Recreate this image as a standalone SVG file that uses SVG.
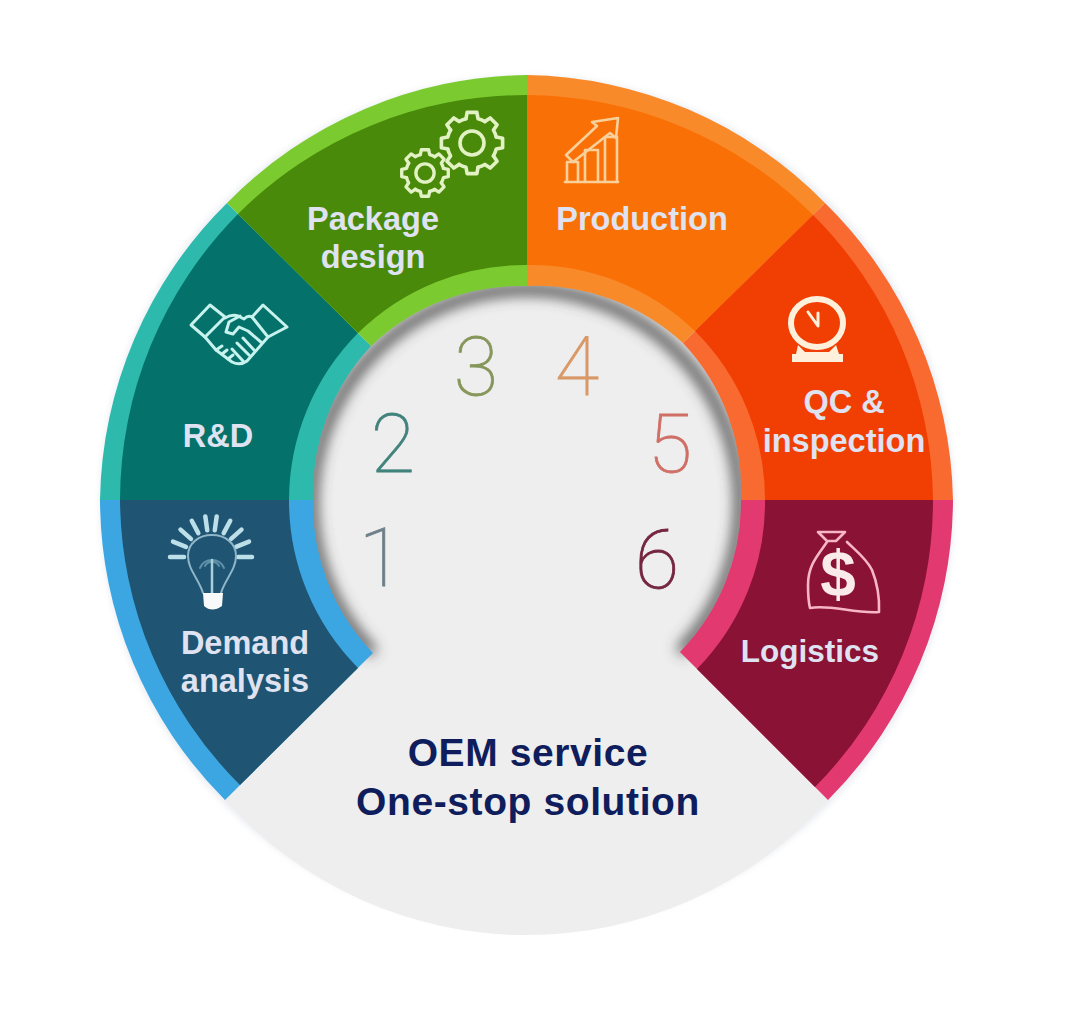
<svg xmlns="http://www.w3.org/2000/svg" xmlns:xlink="http://www.w3.org/1999/xlink" width="1065" height="1020" viewBox="0 0 1065 1020">
  <style>
    .label { font-family: "Liberation Sans", Arial, sans-serif; font-weight: 700; font-size: 32.5px; fill: #dfe2f0; text-anchor: middle; }
    .title { font-family: "Liberation Sans", Arial, sans-serif; font-weight: 700; font-size: 39px; letter-spacing: 0.6px; fill: #0f1d5c; text-anchor: middle; }
    .digit { font-family: "Roboto", "Liberation Sans", sans-serif; font-weight: 100; font-size: 81px; stroke-width: 0.8px; text-anchor: middle; }
    .icon { fill: none; stroke-linejoin: round; stroke-linecap: round; }
  </style>
  <defs>
    <filter id="soft" x="-10%" y="-10%" width="120%" height="120%"><feGaussianBlur stdDeviation="7"/></filter>
    <filter id="halo" x="-5%" y="-5%" width="110%" height="110%"><feGaussianBlur stdDeviation="3"/></filter>
    <clipPath id="well">
      <circle cx="527" cy="500" r="228"/>
      <path d="M373 653 L527 500 L680 652 L828 800 A404 404 0 0 1 225 800 Z"/>
    </clipPath>
    <path id="cog" d="M-6.05 -24.26 L-4.85 -30.62 L4.85 -30.62 L6.05 -24.26 A25 25 0 0 1 12.88 -21.43"/>
    <g id="cogwheel">
      <use xlink:href="#cog"/>
      <use xlink:href="#cog" transform="rotate(45)"/>
      <use xlink:href="#cog" transform="rotate(90)"/>
      <use xlink:href="#cog" transform="rotate(135)"/>
      <use xlink:href="#cog" transform="rotate(180)"/>
      <use xlink:href="#cog" transform="rotate(225)"/>
      <use xlink:href="#cog" transform="rotate(270)"/>
      <use xlink:href="#cog" transform="rotate(315)"/>
      <circle r="12"/>
    </g>
    <line id="ray" x1="0" y1="-27" x2="0" y2="-41"/>
  </defs>

  <!-- pale rim behind the wheel -->
  <circle cx="527" cy="503" r="427" fill="#cfd3e0" opacity="0.4" filter="url(#halo)"/>

  <!-- central well and lower wedge; the fill runs a little under the coloured bands -->
  <g id="hub">
    <circle cx="527" cy="500" r="228" fill="#eeeeee"/>
    <path d="M373 653 L527 500 L680 652 L828 800 A404 404 0 0 1 225 800 Z" fill="#eeeeee"/>
    <g clip-path="url(#well)">
      <path d="M373 653 A214 214 0 1 1 680 652" fill="none" stroke="#4c4c4c" stroke-width="11" filter="url(#soft)"/>
    </g>
    <text class="title" x="528" y="766">OEM service</text>
    <text class="title" x="528" y="815">One-stop solution</text>
  </g>

  <g id="step-1">
    <path fill="#3ba6e2" d="M225 800 A427 427 0 0 1 100 500 L313 500 A214 214 0 0 0 373 653 Z"/>
    <path fill="#1f5472" d="M240 785 A407 407 0 0 1 120 500 L289 500 A238 238 0 0 0 358 668 Z"/>
    <g class="icon" stroke="#bcdfe9" stroke-width="4.5" transform="translate(211 557)">
      <use xlink:href="#ray" transform="rotate(-90)"/>
      <use xlink:href="#ray" transform="rotate(-68)"/>
      <use xlink:href="#ray" transform="rotate(-48)"/>
      <use xlink:href="#ray" transform="rotate(-28)"/>
      <use xlink:href="#ray" transform="rotate(-8)"/>
      <use xlink:href="#ray" transform="rotate(8)"/>
      <use xlink:href="#ray" transform="rotate(28)"/>
      <use xlink:href="#ray" transform="rotate(48)"/>
      <use xlink:href="#ray" transform="rotate(68)"/>
      <use xlink:href="#ray" transform="rotate(90)"/>
    </g>
    <path class="icon" stroke="#8fb5c8" stroke-width="2" d="M203 593 C199 579 188 570 188 556 C188 543 199 535 212 535 C225 535 236 543 236 556 C236 570 225 579 221 593"/>
    <path class="icon" stroke="#5f90a8" stroke-width="2" d="M200 568 A13 13 0 0 1 224 568 M205 566 A8 8 0 0 1 219 566"/>
    <line class="icon" stroke="#a9cfdc" stroke-width="2.5" x1="212" y1="560" x2="212" y2="593"/>
    <path fill="#f8fafa" d="M203 593 H223 L222 606 Q212 613 204 606 Z"/>
    <text class="label" x="245" y="654">Demand</text>
    <text class="label" x="245" y="692">analysis</text>
    <text class="digit" x="381" y="586" fill="#6d7f88" stroke="#6d7f88">1</text>
  </g>

  <g id="step-2">
    <path fill="#2eb9ad" d="M100 500 A427 427 0 0 1 227 203 L371 346 A216 216 0 0 0 313 500 Z"/>
    <path fill="#04726a" d="M120 500 A407 407 0 0 1 238 214 L358 333 A238 238 0 0 0 289 500 Z"/>
    <g class="icon" stroke="#c8f2ee" stroke-width="3">
      <path d="M191 325 L210 305 L225 317 L205 337 Z"/>
      <path d="M263 305 L287 327 L268 337 L252 317 Z"/>
      <path d="M225 318 Q232 314 238 316 L244 319 Q248 315 252 317"/>
      <path d="M205 337 L216 350 L232 362 Q240 366 247 361 L268 337"/>
      <path d="M240 316 L229 322 L226 332 L233 334 L239 327 L248 331 L262 343"/>
      <path d="M243 338 L254 350 M237 343 L249 355 M232 349 L243 361"/>
      <path d="M216 350 L222 346 M222 354 L227 350 M228 359 L233 355"/>
    </g>
    <text class="label" x="218" y="447">R&amp;D</text>
    <text class="digit" x="393" y="472" fill="#41837c" stroke="#41837c">2</text>
  </g>

  <g id="step-3">
    <path fill="#7bcb30" d="M227 203 A427 427 0 0 1 527 75 L527 286 A216 216 0 0 0 371 346 Z"/>
    <path fill="#4a8a0a" d="M238 214 A407 407 0 0 1 527 95 L527 265 A238 238 0 0 0 358 333 Z"/>
    <g class="icon" stroke="#e2f2c4">
      <use xlink:href="#cogwheel" stroke-width="3.6" transform="translate(472 143)"/>
      <use xlink:href="#cogwheel" stroke-width="4.4" transform="translate(425 173) scale(0.76)"/>
    </g>
    <text class="label" x="373" y="230">Package</text>
    <text class="label" x="373" y="268">design</text>
    <text class="digit" x="476" y="395" fill="#86965a" stroke="#86965a">3</text>
  </g>

  <g id="step-4">
    <path fill="#f98a2a" d="M527 75 A427 427 0 0 1 825 203 L683 343 A216 216 0 0 0 527 286 Z"/>
    <path fill="#f97106" d="M527 95 A407 407 0 0 1 813 215 L695 331 A238 238 0 0 0 527 265 Z"/>
    <g class="icon" stroke="#f9cf9a" stroke-width="2.6">
      <path d="M565 182 H618"/>
      <path d="M567 182 V162 H578 V182 M585 182 V150 H598 V182 M605 182 V137 H617 V182"/>
      <path d="M566 155 L597 126 L592 122 L618 118 L616 138 L610 133 L573 162 Z"/>
    </g>
    <text class="label" x="642" y="230">Production</text>
    <text class="digit" x="577" y="395" fill="#d99968" stroke="#d99968">4</text>
  </g>

  <g id="step-5">
    <path fill="#f96a30" d="M825 203 A427 427 0 0 1 953 500 L741 500 A214 214 0 0 0 683 343 Z"/>
    <path fill="#f13e02" d="M813 215 A407 407 0 0 1 933 500 L765 500 A238 238 0 0 0 695 331 Z"/>
    <g class="icon" stroke="#fff0dc">
      <ellipse cx="817" cy="323" rx="26" ry="24" stroke-width="6"/>
      <path stroke-width="3" d="M808 312 L818 326 L818 313"/>
    </g>
    <path fill="#fff0dc" d="M798 345 L805 352 H829 L836 345 L839 354 H843 V362 H792 V354 H796 Z"/>
    <text class="label" x="844" y="413">QC &amp;</text>
    <text class="label" x="844" y="452">inspection</text>
    <text class="digit" x="670" y="472" fill="#cf6f66" stroke="#cf6f66">5</text>
  </g>

  <g id="step-6">
    <path fill="#e23a70" d="M953 500 A427 427 0 0 1 828 800 L680 652 A214 214 0 0 0 741 500 Z"/>
    <path fill="#8a1234" d="M933 500 A407 407 0 0 1 815 787 L697 669 A238 238 0 0 0 765 500 Z"/>
    <g class="icon" stroke="#f7b6c6" stroke-width="2.6">
      <path d="M818 532 H845 L836 541 H827 Z"/>
      <path d="M827 542 C818 555 808 565 808 585 Q808 600 810 608 C830 604 855 614 879 612 Q880 590 872 570 C866 558 855 550 847 542"/>
    </g>
    <text x="838" y="596" font-family="Liberation Sans, Arial, sans-serif" font-weight="700" font-size="64" fill="#fbeaea" text-anchor="middle">$</text>
    <text class="label" x="810" y="662" style="font-size:31.5px">Logistics</text>
    <text class="digit" x="657" y="588" fill="#75263f" stroke="#75263f">6</text>
  </g>
</svg>
